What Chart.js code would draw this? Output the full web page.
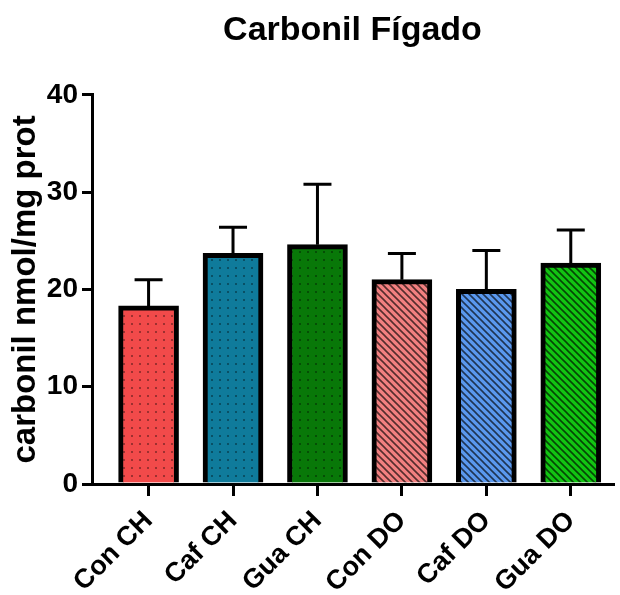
<!DOCTYPE html>
<html>
<head>
<meta charset="utf-8">
<script src="https://cdn.jsdelivr.net/npm/chart.js@4.4.0/dist/chart.umd.min.js"></script>
<style>
  html, body { margin: 0; padding: 0; background: #fff; }
</style>
</head>
<body>
<canvas id="carbonilChart" width="620" height="595"></canvas>
<script>
// Carbonyl content per group (mean and upper error)
const groups = ['Con CH', 'Caf CH', 'Gua CH', 'Con DO', 'Caf DO', 'Gua DO'];
const means = [18.3, 23.7, 24.6, 21.0, 20.0, 22.7];
const errors = [2.7, 2.7, 6.2, 2.7, 4.0, 3.4];
const fills = ['#f24a4a', '#0f7b9b', '#087808', '#f28080', '#5a98ee', '#12c412'];
const fillKinds = ['dots', 'dots', 'dots', 'hatch', 'hatch', 'hatch'];
const yTicks = [0, 10, 20, 30, 40];

Chart.defaults.font.family = "'Liberation Sans', Arial, sans-serif";
Chart.defaults.color = '#000';

const canvas = document.getElementById('carbonilChart');
const ctx = canvas.getContext('2d');

// small repeating tiles: dotted fill for CH groups, diagonal hatch for DO groups
function makePattern(color, kind) {
    const size = kind === 'dots' ? 8 : 7;
    const tile = document.createElement('canvas');
    tile.width = size;
    tile.height = size;
    const c = tile.getContext('2d');
    c.fillStyle = color;
    c.fillRect(0, 0, size, size);
    if (kind === 'dots') {
        c.fillStyle = 'rgba(0,0,0,0.35)';
        c.fillRect(3, 3, 2, 2);
    } else {
        c.strokeStyle = 'rgba(0,0,0,0.65)';
        c.lineWidth = 1.6;
        c.beginPath();
        c.moveTo(-1, -1); c.lineTo(size + 1, size + 1);
        c.moveTo(-1, size - 1); c.lineTo(1, size + 1);
        c.moveTo(size - 1, -1); c.lineTo(size + 1, 1);
        c.stroke();
    }
    return ctx.createPattern(tile, 'repeat');
}

// SEM whiskers (upper only) drawn on top of the bars
const errorBars = {
    id: 'errorBars',
    afterDatasetsDraw(chart) {
        const c = chart.ctx;
        const y = chart.scales.y;
        const meta = chart.getDatasetMeta(0);
        c.save();
        c.strokeStyle = '#000';
        c.lineWidth = 3;
        meta.data.forEach((bar, i) => {
            const top = y.getPixelForValue(means[i]);
            const hi = y.getPixelForValue(means[i] + errors[i]);
            c.beginPath();
            c.moveTo(bar.x, top);
            c.lineTo(bar.x, hi);
            c.moveTo(bar.x - 14, hi);
            c.lineTo(bar.x + 14, hi);
            c.stroke();
        });
        c.restore();
    }
};

new Chart(ctx, {
    type: 'bar',
    data: {
        datasets: [{
            data: means.map((v, i) => ({ x: i, y: v })),
            backgroundColor: fills.map((f, i) => makePattern(f, fillKinds[i])),
            borderColor: '#000',
            borderWidth: 5,
            borderSkipped: 'bottom',
            barThickness: 60
        }]
    },
    options: {
        responsive: false,
        animation: false,
        layout: { padding: { left: 6, right: 7 } },
        scales: {
            x: {
                type: 'linear',
                min: -0.67,
                max: 5.5,
                offset: false,
                afterBuildTicks: (scale) => {
                    scale.ticks = groups.map((g, i) => ({ value: i }));
                },
                afterFit: (scale) => { scale.height = 111; },
                ticks: {
                    callback: (v) => groups[v],
                    minRotation: 45,
                    maxRotation: 45,
                    font: { size: 27, weight: 'bold' },
                    padding: 9
                },
                grid: {
                    offset: false,
                    drawOnChartArea: false,
                    drawTicks: true,
                    tickLength: 12,
                    color: '#000',
                    lineWidth: 3
                },
                border: { display: true, color: '#000', width: 3 }
            },
            y: {
                min: 0,
                max: 40,
                afterBuildTicks: (scale) => {
                    scale.ticks = yTicks.map(v => ({ value: v }));
                },
                afterFit: (scale) => { scale.width = 86; },
                ticks: {
                    font: { size: 28, weight: 'bold' },
                    padding: 4
                },
                grid: {
                    drawOnChartArea: false,
                    tickLength: 10,
                    color: '#000',
                    lineWidth: 3
                },
                border: { display: true, color: '#000', width: 3 },
                title: {
                    display: true,
                    text: 'carbonil nmol/mg prot',
                    font: { size: 33, weight: 'bold' },
                    padding: 0
                }
            }
        },
        plugins: {
            legend: { display: false },
            tooltip: { enabled: false },
            title: {
                display: true,
                text: 'Carbonil Fígado',
                fullSize: false,
                font: { size: 34, weight: 'bold' },
                padding: { top: 10, bottom: 44 }
            }
        }
    },
    plugins: [errorBars]
});
</script>
</body>
</html>
